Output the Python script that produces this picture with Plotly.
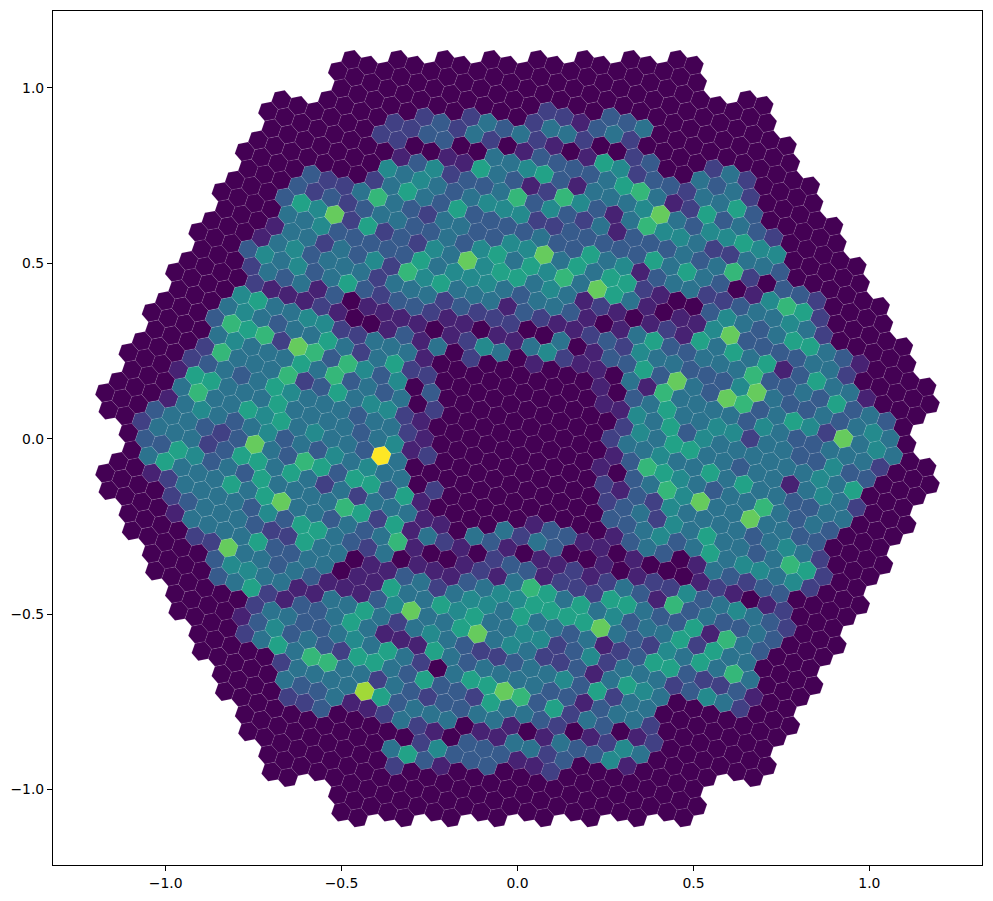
import math
import plotly.graph_objects as go

# lattice of the hexagonal grid (data units)
cell_pitch = 0.05
grid_tilt = math.degrees(math.atan(math.sqrt(3) / 5))
edge_level = 66
corner_level = 60

# values, one row per lattice line, everything else is 0
row_index = list(range(-22, 24))
row_start = [10, 6, 5, 1, -2, -4, -5, -4, -5, -6, -10, -11, -12, -12, -13, -14, -15, -15, -15, -16, -17, -18, -18,
             -19, -20, -21, -21, -22, -23, -24, -24, -24, -24, -23, -23, -22, -21, -21, -19, -20, -20, -18, -18, -18,
             -12, -12]
row_values = [
    "334",
    "2213420000242",
    "24420023004342",
    "243421016523324463",
    "2324201333346741263432",
    "223300445631444584355655",
    "2200116431275314755422443",
    "13523347353241333434720332",
    "545434555223333364643015762",
    "2464363333" "4336451344" "22344542",
    "3224743244" "3355846466" "2100354346" "6431",
    "32323443343" "5646574864" "1011583333" "4420",
    "365826232548" "5664541210" "1216464613" "6441",
    "445333336455" "5434431014" "6334447334" "36343",
    "1442435275644" "4132112325" "4433358433" "43454",
    "14534442444232" "2200401336" "3843873465" "28454",
    "354534632332110" "1145211041" "7444435433" "44420",
    "243413011110125" "4010001034" "6445524433" "5330",
    "211121001314020" "0000001154" "6354444445" "46",
    "5644552244410000" "0000000254" "6644344145" "42",
    "45434464246220000" "0000002445" "4464644334" "4",
    "376728737535030000" "0000001376" "5434474343",
    "454446473434020000" "0000010347" "584484433",
    "2744472364552100000" "0000021325" "444434542",
    "23434654443442100000" "0000023425" "464434762",
    "166444644443451200000" "0000033453" "46455452",
    "474465645443b40000000" "0000013430" "143233",
    "1454345343545440200000" "1331101000" "121012",
    "34432384376366361000042" "4300101225" "345432",
    "244423664642424441104310" "1121243173" "43343",
    "336534364444762614210233" "1222664336" "1743",
    "464446468443434710012147" "6464534462" "644",
    "124444353664324011134556" "6668432546" "474",
    "23444322644011342455464" "4341236632" "231",
    "14444633440116446564455" "2352444235" "42",
    "2284434311135844684542" "2314654",
    "355441144642454322344" "536244",
    "346213346411164344443" "313442",
    "2443345464204668736" "243012",
    "13534326643633264432" "01254",
    "24647744243233441014" "3351",
    "244449634440114423",
    "43341124210333112",
    "2230000025333",
    "4631",
    "2",
]
tick_values = [-1.0, -0.5, 0.0, 0.5, 1.0]

readings = {}
for m, start, text in zip(row_index, row_start, row_values):
    for k, ch in enumerate(text):
        readings[(start + k, m)] = int(ch, 16)

# step vectors of the lattice
ax = cell_pitch * math.cos(math.radians(grid_tilt))
ay = -cell_pitch * math.sin(math.radians(grid_tilt))
cx = cell_pitch * math.cos(math.radians(grid_tilt + 60))
cy = -cell_pitch * math.sin(math.radians(grid_tilt + 60))

xs, ys, vals = [], [], []
for m in range(-40, 41):
    for n in range(-40, 41):
        # distance to the three pairs of outer edges, in lattice levels
        u, v, p = 2 * n - m, 3 * n + 2 * m, n + 3 * m
        if max(abs(u), abs(v), abs(p)) > edge_level:
            continue
        # the six corners of the outline are cut off
        pairs = [(u, v), (v, p), (p, -u), (-u, -v), (-v, -p), (-p, u)]
        if any(s >= corner_level and t >= corner_level for s, t in pairs):
            continue
        xs.append(n * ax + m * cx)
        ys.append(n * ay + m * cy)
        vals.append(readings.get((n, m), 0))

fig = go.Figure(go.Scatter(
    x=xs,
    y=ys,
    mode="markers",
    hoverinfo="skip",
    marker=dict(
        symbol="hexagon2",
        angle=grid_tilt - 30,
        size=20.35,
        color=vals,
        colorscale="Viridis",
        cmin=0,
        cmax=10.5,
        line=dict(color="rgba(255,255,255,0.3)", width=0.3),
    ),
))

axis_style = dict(
    showgrid=False,
    zeroline=False,
    showline=True,
    mirror=True,
    linecolor="black",
    linewidth=1.1,
    ticks="outside",
    ticklen=5,
    tickwidth=1.1,
    tickcolor="black",
    tickvals=tick_values,
    ticktext=["\u22121.0", "\u22120.5", "0.0", "0.5", "1.0"],
    tickfont=dict(family="DejaVu Sans", size=13.9, color="black"),
)
fig.update_xaxes(range=[-1.32, 1.32], **axis_style)
fig.update_yaxes(range=[-1.215, 1.219], **axis_style)
fig.update_layout(
    width=993,
    height=901,
    margin=dict(l=53, r=10, t=10, b=35),
    plot_bgcolor="white",
    paper_bgcolor="white",
    showlegend=False,
)

fig.write_html("out.html", config={"displayModeBar": False}, post_script="document.body.style.margin='0';")
